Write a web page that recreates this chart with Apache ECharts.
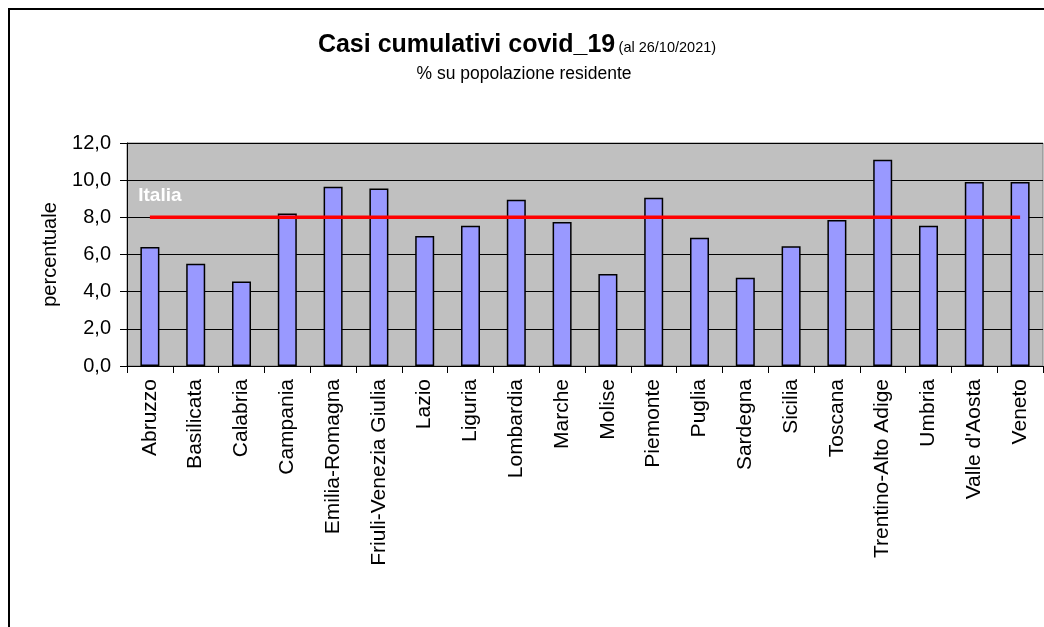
<!DOCTYPE html>
<html>
<head>
<meta charset="utf-8">
<script src="https://cdn.jsdelivr.net/npm/echarts@6/dist/echarts.min.js"></script>
<style>
  html, body { margin: 0; padding: 0; background: #fff; }
  #chart { width: 1044px; height: 627px; }
</style>
</head>
<body>
<div id="chart"></div>
<script>
const regioni = ['Abruzzo', 'Basilicata', 'Calabria', 'Campania', 'Emilia-Romagna',
  'Friuli-Venezia Giulia', 'Lazio', 'Liguria', 'Lombardia', 'Marche', 'Molise',
  'Piemonte', 'Puglia', 'Sardegna', 'Sicilia', 'Toscana', 'Trentino-Alto Adige',
  'Umbria', "Valle d'Aosta", 'Veneto'];
const casiPercent = [6.4, 5.5, 4.55, 8.2, 9.65, 9.55, 7.0, 7.55, 8.95, 7.75, 4.95,
  9.05, 6.9, 4.75, 6.45, 7.85, 11.1, 7.55, 9.9, 9.9];
const italia = [8.0, 8.0, 8.0, 8.0, 8.0, 8.0, 8.0, 8.0, 8.0, 8.0, 8.0,
  8.0, 8.0, 8.0, 8.0, 8.0, 8.0, 8.0, 8.0, 8.0];
const yTickLabels = ['0,0', '2,0', '4,0', '6,0', '8,0', '10,0', '12,0'];
const titleMain = 'Casi cumulativi covid_19';
const titleDate = '(al 26/10/2021)';
const subtitle = '% su popolazione residente';
const yName = 'percentuale';
const italiaName = 'Italia';

const FONT = '"Liberation Sans", Arial, sans-serif';
const chart = echarts.init(document.getElementById('chart'));

const lineData = italia.map((v, i) => i === 0 ? {
  value: v,
  label: {
    show: true, formatter: italiaName, position: 'top', distance: 12, offset: [10, 0],
    color: '#fff', fontWeight: 'bold', fontSize: 19, fontFamily: FONT
  }
} : v);

chart.setOption({
  backgroundColor: '#fff',
  animation: false,
  textStyle: { fontFamily: FONT },
  graphic: [
    {
      type: 'rect', silent: true, z: -10,
      shape: { x: 9, y: 9, width: 1100, height: 700 },
      style: { fill: 'none', stroke: '#000', lineWidth: 2 }
    },
    {
      type: 'text', x: 517, y: 45,
      style: {
        text: '{b|' + titleMain + '} {s|' + titleDate + '}',
        align: 'center', verticalAlign: 'middle',
        rich: {
          b: { fontSize: 25, fontWeight: 'bold', fontFamily: FONT, fill: '#000' },
          s: { fontSize: 14.5, fontFamily: FONT, fill: '#000', padding: [6, 0, 0, 0] }
        }
      }
    },
    {
      type: 'text', x: 524, y: 74,
      style: {
        text: subtitle, align: 'center', verticalAlign: 'middle',
        fontSize: 17.5, fontFamily: FONT, fill: '#000'
      }
    }
  ],
  grid: {
    left: 127, right: 1, top: 143, bottom: 261,
    show: true, backgroundColor: '#C0C0C0', borderColor: '#808080', borderWidth: 1
  },
  xAxis: {
    type: 'category',
    data: regioni,
    boundaryGap: true,
    axisLine: { show: true, lineStyle: { color: '#000', width: 1 } },
    axisTick: { show: true, length: 7, lineStyle: { color: '#000' } },
    axisLabel: {
      rotate: 90, interval: 0, margin: 13, fontSize: 21, color: '#000', fontFamily: FONT
    },
    splitLine: { show: false }
  },
  yAxis: {
    type: 'value',
    min: 0, max: 12, interval: 2,
    name: yName, nameLocation: 'middle', nameGap: 67, nameRotate: 90,
    nameTextStyle: { fontSize: 20, color: '#000', fontFamily: FONT },
    axisLine: { show: true, lineStyle: { color: '#000', width: 1 } },
    axisTick: { show: true, length: 7, lineStyle: { color: '#000' } },
    axisLabel: {
      margin: 16, fontSize: 20, color: '#000', fontFamily: FONT,
      formatter: (v) => yTickLabels[Math.round(v / 2)]
    },
    splitLine: { show: true, lineStyle: { color: '#000', width: 1 } }
  },
  series: [
    {
      type: 'bar',
      data: casiPercent,
      barWidth: 19,
      itemStyle: { color: '#9999FF', borderColor: '#000', borderWidth: 1.5 },
      z: 2
    },
    {
      type: 'line',
      data: lineData,
      symbol: 'circle', symbolSize: 0, showSymbol: true,
      lineStyle: { color: '#FF0000', width: 3.5 },
      itemStyle: { color: '#FF0000' },
      z: 5
    }
  ]
});
</script>
</body>
</html>
